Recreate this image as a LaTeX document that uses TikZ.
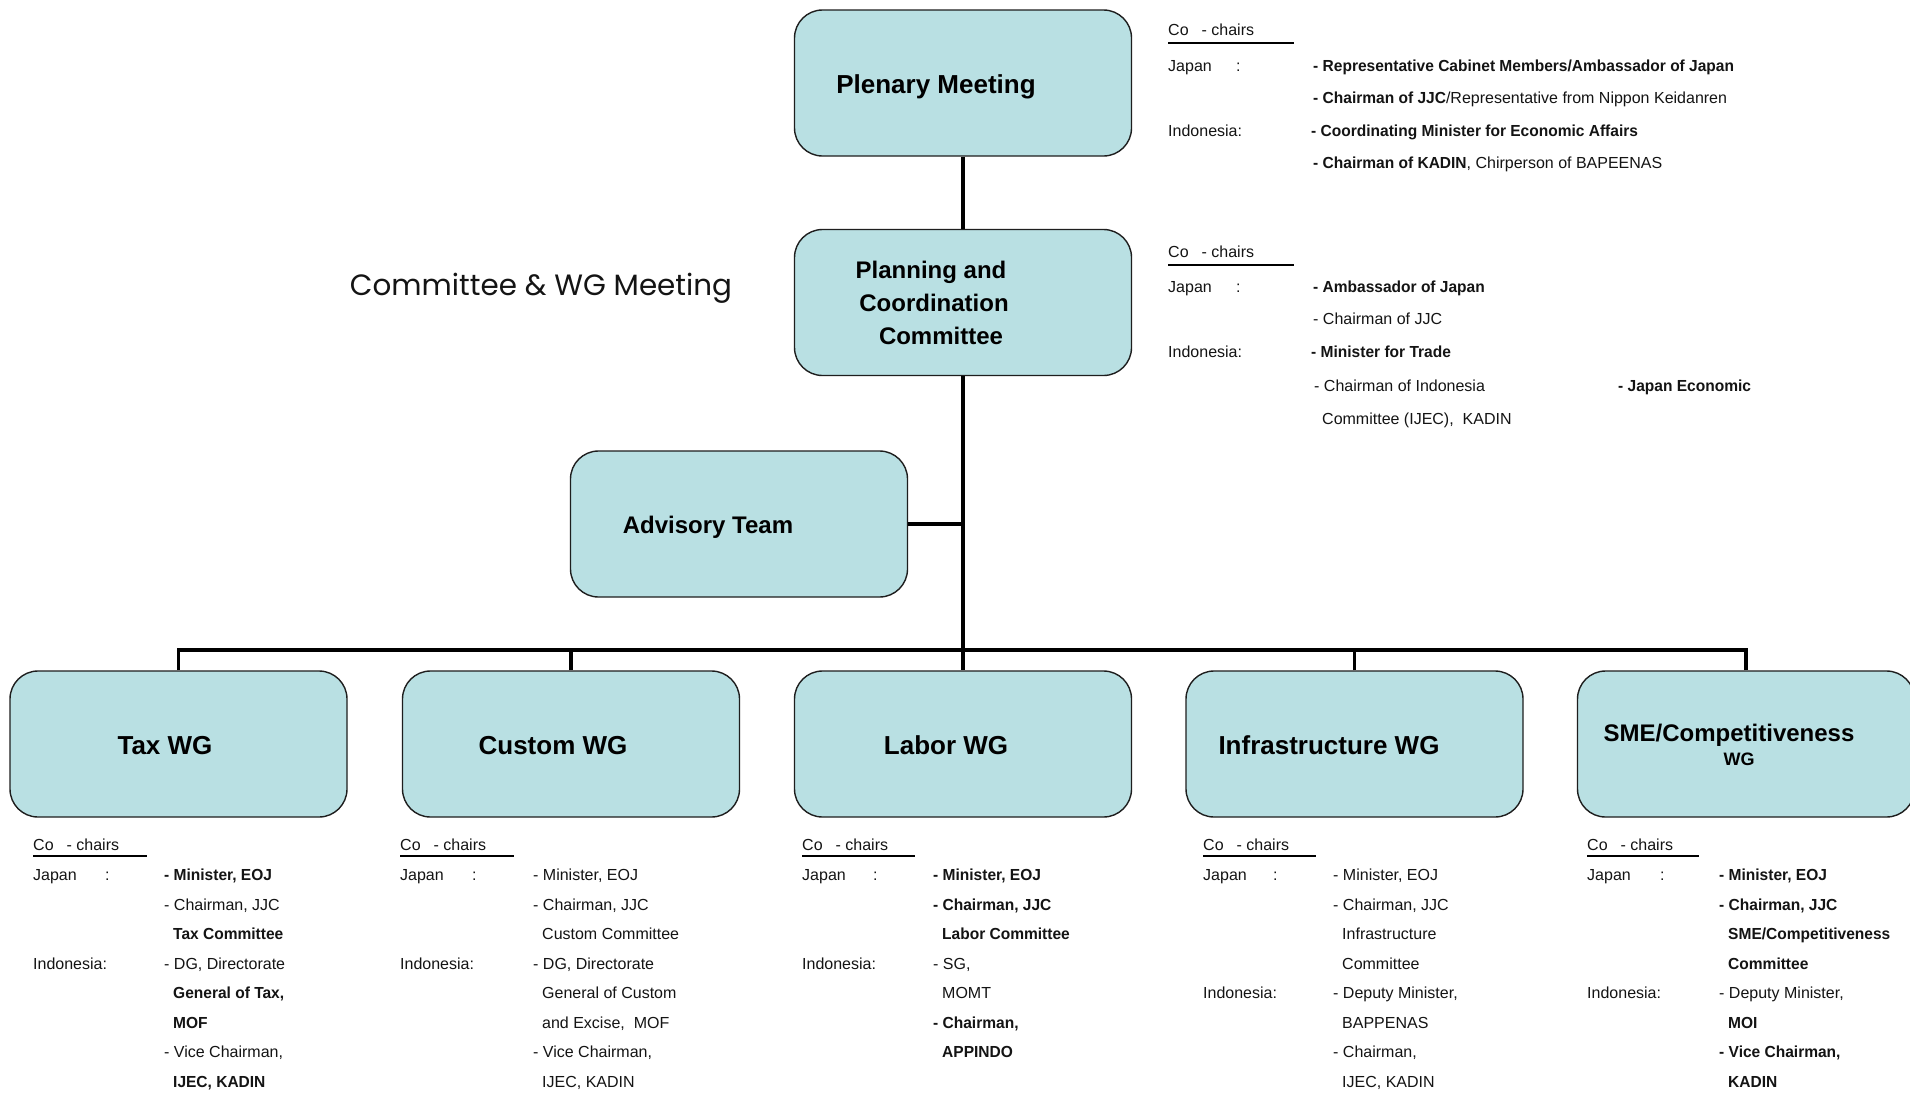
\documentclass[tikz,border=0pt]{standalone}
\usepackage{fontspec}
\usepackage{graphicx}
\setmainfont{Liberation Sans}
\newfontfamily\cbf{Liberation Sans}[FakeStretch=0.97]
\newfontfamily\gothic{Poppins}
\definecolor{boxfill}{RGB}{185,224,227}
\definecolor{boxline}{RGB}{30,30,30}
\definecolor{inktxt}{RGB}{20,20,20}
\newcommand\bld[1]{{\cbf\bfseries #1}}
\newcounter{tlc}
\newcommand\mytl[3]{\stepcounter{tlc}\node[txt] (t\arabic{tlc}) at (#1,#2) {#3};}
\tikzset{
  box/.style={draw=boxline, line width=1.4pt, fill=boxfill, rounded corners=28pt,
    minimum width=337pt, minimum height=146pt, inner sep=0pt},
  conn/.style={line width=3.5pt, black},
  lbl/.style={font=\bfseries\fontsize{26}{30}\selectfont, anchor=base, inner sep=0pt, text=black},
  plbl/.style={font=\bfseries\fontsize{24}{28}\selectfont, anchor=base, inner sep=0pt, text=black},
  txt/.style={anchor=base west, inner sep=0pt, font=\fontsize{16}{19}\selectfont, text=inktxt},
  uline/.style={line width=1.8pt, black}
}
\begin{document}
\begin{tikzpicture}[x=1pt,y=-1pt]
\useasboundingbox (0,0) rectangle (1910,1092);
\fill[white] (0,0) rectangle (1910,1092);

% boxes
\node[box] (plenary) at (963,83) {};
\node[box] (planning) at (963,302.5) {};
\node[box] (advisory) at (739,524) {};
\node[box] (tax) at (178.5,744) {};
\node[box] (custom) at (571,744) {};
\node[box] (labor) at (963,744) {};
\node[box] (infra) at (1354.5,744) {};
\node[box] (sme) at (1746,744) {};

% connectors
\coordinate (hub) at (963,650);
\draw[conn] (plenary.south) -- (planning.north);
\draw[conn] (planning.south) -- (labor.north);
\draw[conn] (advisory.east) -- (advisory.east -| hub);
\draw[conn] (tax.north) |- (hub);
\draw[conn] (custom.north) |- (hub);
\draw[conn] (infra.north) |- (hub);
\draw[conn] (sme.north) |- (hub);

% box labels
\node[lbl] (plenaryL) at (936,93) {Plenary Meeting};
\node[plbl] (planL1) at (931,278) {Planning and};
\node[plbl] (planL2) at (934,311) {Coordination};
\node[plbl] (planL3) at (941,344) {Committee};
\node[plbl] (advL) at (708,533) {Advisory Team};
\node[lbl] (taxL) at (165,754) {Tax WG};
\node[lbl] (customL) at (553,754) {Custom WG};
\node[lbl] (laborL) at (946,754) {Labor WG};
\node[lbl] (infraL) at (1329,754) {Infrastructure WG};
\node[plbl] (smeL1) at (1729,741) {SME/Competitiveness};
\node[anchor=base, inner sep=0pt, font=\bfseries\fontsize{18}{21}\selectfont] (smeL2) at (1739,765) {WG};

% title
\node[inner sep=0pt, text=inktxt] (title) at (541,288) {\resizebox{382pt}{!}{\gothic Committee \& WG Meeting}};

% top co-chairs block
\mytl{1168}{35}{Co\hspace{13pt}- chairs}
\draw[uline] (1168,43) -- (1294,43);
\mytl{1168}{71}{Japan}
\mytl{1236}{71}{:}
\mytl{1313}{71}{\bld{- Representative Cabinet Members/Ambassador of Japan}}
\mytl{1313}{103}{\bld{- Chairman of JJC}/Representative from Nippon Keidanren}
\mytl{1168}{136}{Indonesia:}
\mytl{1311}{136}{\bld{- Coordinating Minister for Economic Affairs}}
\mytl{1313}{168}{\bld{- Chairman of KADIN}, Chirperson of BAPEENAS}

% planning co-chairs block
\mytl{1168}{257}{Co\hspace{13pt}- chairs}
\draw[uline] (1168,265) -- (1294,265);
\mytl{1168}{292}{Japan}
\mytl{1236}{292}{:}
\mytl{1313}{292}{\bld{- Ambassador of Japan}}
\mytl{1313}{324}{- Chairman of JJC}
\mytl{1168}{357}{Indonesia:}
\mytl{1311}{357}{\bld{- Minister for Trade}}
\mytl{1314}{391}{- Chairman of Indonesia}
\mytl{1618}{391}{\bld{- Japan Economic}}
\mytl{1322}{424}{Committee (IJEC),\ \ KADIN}

% Tax block
\mytl{33}{850}{Co\hspace{13pt}- chairs}
\draw[uline] (33,856) -- (147,856);
\mytl{33}{880}{Japan}
\mytl{105}{880}{:}
\mytl{164}{880}{\bld{- Minister, EOJ}}
\mytl{164}{910}{- Chairman, JJC}
\mytl{173}{939}{\bld{Tax Committee}}
\mytl{33}{969}{Indonesia:}
\mytl{164}{969}{- DG, Directorate}
\mytl{173}{998}{\bld{General of Tax,}}
\mytl{173}{1028}{\bld{MOF}}
\mytl{164}{1057}{- Vice Chairman,}
\mytl{173}{1087}{\bld{IJEC, KADIN}}

% Custom block
\mytl{400}{850}{Co\hspace{13pt}- chairs}
\draw[uline] (400,856) -- (514,856);
\mytl{400}{880}{Japan}
\mytl{472}{880}{:}
\mytl{533}{880}{- Minister, EOJ}
\mytl{533}{910}{- Chairman, JJC}
\mytl{542}{939}{Custom Committee}
\mytl{400}{969}{Indonesia:}
\mytl{533}{969}{- DG, Directorate}
\mytl{542}{998}{General of Custom}
\mytl{542}{1028}{and Excise,\ \ MOF}
\mytl{533}{1057}{- Vice Chairman,}
\mytl{542}{1087}{IJEC, KADIN}

% Labor block
\mytl{802}{850}{Co\hspace{13pt}- chairs}
\draw[uline] (802,856) -- (915,856);
\mytl{802}{880}{Japan}
\mytl{873}{880}{:}
\mytl{933}{880}{\bld{- Minister, EOJ}}
\mytl{933}{910}{\bld{- Chairman, JJC}}
\mytl{942}{939}{\bld{Labor Committee}}
\mytl{802}{969}{Indonesia:}
\mytl{933}{969}{- SG,}
\mytl{942}{998}{MOMT}
\mytl{933}{1028}{\bld{- Chairman,}}
\mytl{942}{1057}{\bld{APPINDO}}

% Infrastructure block
\mytl{1203}{850}{Co\hspace{13pt}- chairs}
\draw[uline] (1203,856) -- (1316,856);
\mytl{1203}{880}{Japan}
\mytl{1273}{880}{:}
\mytl{1333}{880}{- Minister, EOJ}
\mytl{1333}{910}{- Chairman, JJC}
\mytl{1342}{939}{Infrastructure}
\mytl{1342}{969}{Committee}
\mytl{1203}{998}{Indonesia:}
\mytl{1333}{998}{- Deputy Minister,}
\mytl{1342}{1028}{BAPPENAS}
\mytl{1333}{1057}{- Chairman,}
\mytl{1342}{1087}{IJEC, KADIN}

% SME block
\mytl{1587}{850}{Co\hspace{13pt}- chairs}
\draw[uline] (1587,856) -- (1699,856);
\mytl{1587}{880}{Japan}
\mytl{1660}{880}{:}
\mytl{1719}{880}{\bld{- Minister, EOJ}}
\mytl{1719}{910}{\bld{- Chairman, JJC}}
\mytl{1728}{939}{\bld{SME/Competitiveness}}
\mytl{1728}{969}{\bld{Committee}}
\mytl{1587}{998}{Indonesia:}
\mytl{1719}{998}{- Deputy Minister,}
\mytl{1728}{1028}{\bld{MOI}}
\mytl{1719}{1057}{\bld{- Vice Chairman,}}
\mytl{1728}{1087}{\bld{KADIN}}
\end{tikzpicture}
\end{document}
